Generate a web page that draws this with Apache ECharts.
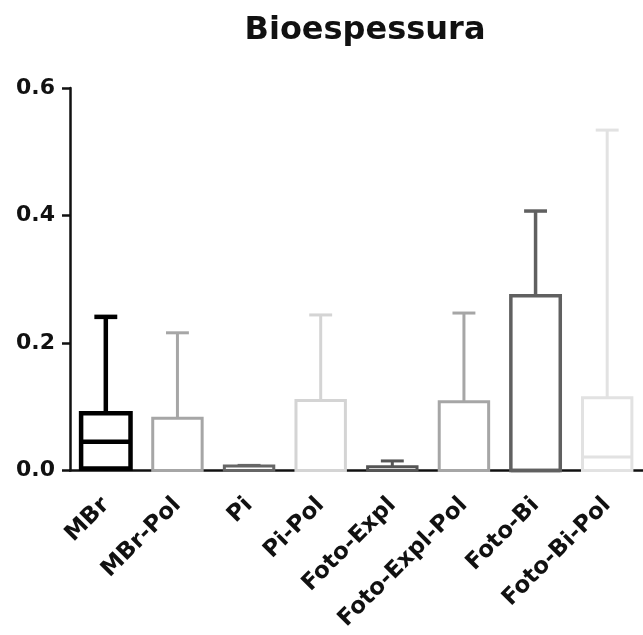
<!DOCTYPE html>
<html>
<head>
<meta charset="utf-8">
<script src="https://cdn.jsdelivr.net/npm/echarts@6/dist/echarts.min.js"></script>
<style>html,body{margin:0;padding:0;background:#fff;}#c{width:643px;height:635px;}</style>
</head>
<body>
<div id="c"></div>
<script>
var categories = ['MBr','MBr-Pol','Pi','Pi-Pol','Foto-Expl','Foto-Expl-Pol','Foto-Bi','Foto-Bi-Pol'];
var minVals    = [0, 0, 0, 0, 0, 0, 0, 0];
var q1Vals     = [0.003, 0, 0, 0, 0, 0, 0, 0];
var medianVals = [0.045, 0, 0, 0, 0, 0, 0, 0.021];
var q3Vals     = [0.090, 0.082, 0.007, 0.110, 0.006, 0.108, 0.274, 0.114];
var maxVals    = [0.241, 0.216, 0.008, 0.244, 0.015, 0.247, 0.407, 0.534];
var yTicks     = [0, 0.2, 0.4, 0.6];
var colors     = ['#000000','#a6a6a6','#666666','#d4d4d4','#555555','#a6a6a6','#606060','#e2e2e2'];
var lineWidths = [4.5, 3, 3, 3, 3, 3, 3.5, 3];

var data = categories.map(function(c, i){
  return [i, minVals[i], q1Vals[i], medianVals[i], q3Vals[i], maxVals[i]];
});

var chart = echarts.init(document.getElementById('c'));
var FONT = 'DejaVu Sans';
chart.setOption({
  animation: false,
  backgroundColor: '#fff',
  title: {
    text: 'Bioespessura',
    left: 360,
    textAlign: 'center',
    top: 10,
    textStyle: {fontFamily: FONT, fontWeight: 'bold', fontSize: 32, color: '#111'}
  },
  grid: {left: 70, right: -5, top: 88, bottom: 164.5, containLabel: false},
  xAxis: {
    type: 'category',
    data: categories,
    axisLine: {lineStyle: {color: '#111', width: 2.5}},
    axisTick: {alignWithLabel: true, length: 7, lineStyle: {color: '#111', width: 2.5}},
    axisLabel: {rotate: 45, margin: 31, fontFamily: FONT, fontWeight: 'bold', fontSize: 23, color: '#111', interval: 0},
    splitLine: {show: false}
  },
  yAxis: {
    type: 'value',
    min: yTicks[0], max: yTicks[yTicks.length-1], interval: 0.2,
    axisLine: {show: true, lineStyle: {color: '#111', width: 2.5}},
    axisTick: {show: true, length: 8, lineStyle: {color: '#111', width: 2.5}},
    axisLabel: {margin: 15, fontFamily: FONT, fontWeight: 'bold', fontSize: 22, color: '#111',
      formatter: function(v){ return v.toFixed(1); }},
    splitLine: {show: false}
  },
  series: [{
    type: 'custom',
    data: data,
    z: 1,
    renderItem: function(params, api){
      var i = api.value(0);
      var band = api.size([1, 0])[0];
      var bw = band * 0.69, cw = band * 0.32;
      var pMin = api.coord([i, api.value(1)]);
      var pQ1 = api.coord([i, api.value(2)]);
      var pMed = api.coord([i, api.value(3)]);
      var pQ3 = api.coord([i, api.value(4)]);
      var pMax = api.coord([i, api.value(5)]);
      var x = pQ1[0];
      var col = colors[i], lw = lineWidths[i];
      var st = {stroke: col, lineWidth: lw, fill: null};
      var children = [
        {type: 'line', shape: {x1: x, y1: pQ3[1], x2: x, y2: pMax[1]}, style: st},
        {type: 'line', shape: {x1: x - cw/2, y1: pMax[1], x2: x + cw/2, y2: pMax[1]}, style: st},
        {type: 'line', shape: {x1: x, y1: pQ1[1], x2: x, y2: pMin[1]}, style: st},
        {type: 'rect', shape: {x: x - bw/2, y: pQ3[1], width: bw, height: pQ1[1] - pQ3[1]}, style: {stroke: col, lineWidth: lw, fill: 'none'}},
        {type: 'line', shape: {x1: x - bw/2, y1: pMed[1], x2: x + bw/2, y2: pMed[1]}, style: st}
      ];
      return {type: 'group', children: children};
    }
  }]
});
</script>
</body>
</html>
